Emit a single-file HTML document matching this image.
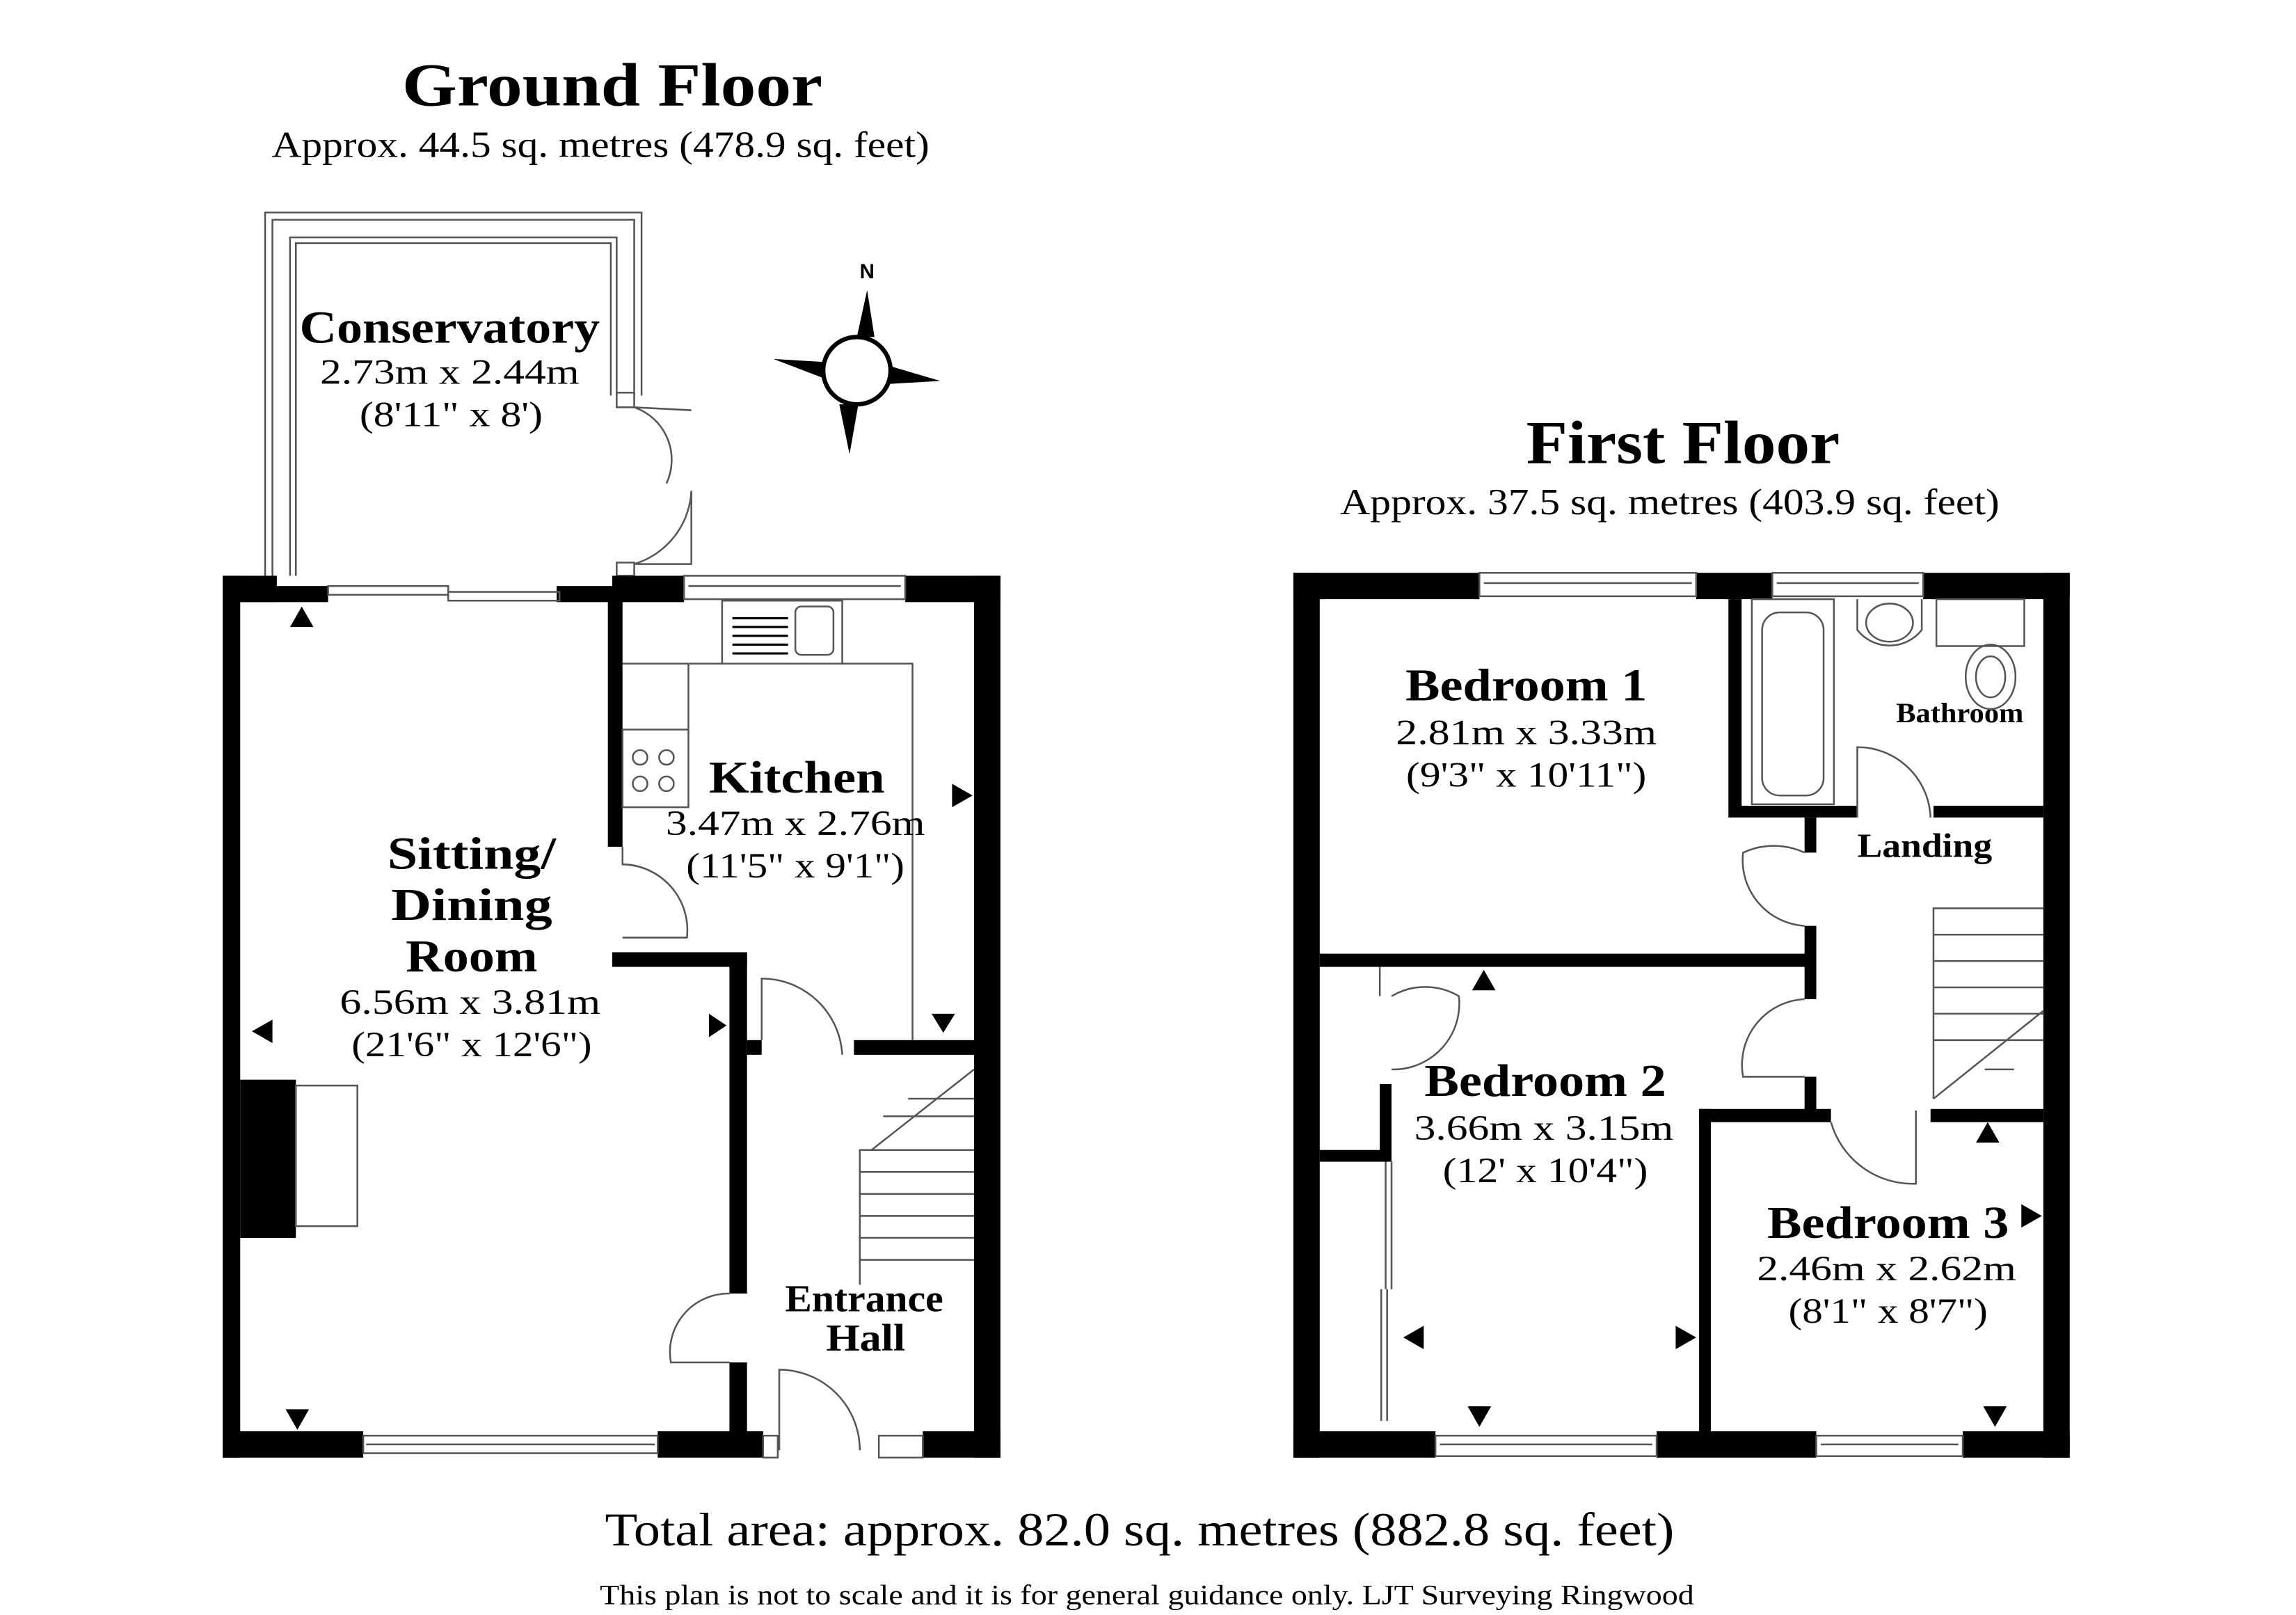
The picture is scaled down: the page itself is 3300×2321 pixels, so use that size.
<!DOCTYPE html>
<html><head><style>html,body{margin:0;padding:0;background:#fff}svg{display:block}</style></head><body>
<svg width="3300" height="2321" viewBox="0 0 1567.5 1102.4" xmlns="http://www.w3.org/2000/svg" font-family="'Liberation Serif',serif">
<rect width="1568" height="1103" fill="#fff"/>
<g text-anchor="middle" fill="#000" lengthAdjust="spacingAndGlyphs">
<text x="418" y="72" font-size="42" font-weight="bold" textLength="287" lengthAdjust="spacingAndGlyphs">Ground Floor</text>
<text x="410" y="107" font-size="25" textLength="449" lengthAdjust="spacingAndGlyphs">Approx. 44.5 sq. metres (478.9 sq. feet)</text>
<text x="1149" y="316" font-size="42" font-weight="bold" textLength="214" lengthAdjust="spacingAndGlyphs">First Floor</text>
<text x="1140" y="351" font-size="25" textLength="450" lengthAdjust="spacingAndGlyphs">Approx. 37.5 sq. metres (403.9 sq. feet)</text>
<text x="778" y="1055" font-size="32" textLength="730" lengthAdjust="spacingAndGlyphs">Total area: approx. 82.0 sq. metres (882.8 sq. feet)</text>
<text x="783" y="1095" font-size="19" textLength="747" lengthAdjust="spacingAndGlyphs">This plan is not to scale and it is for general guidance only. LJT Surveying Ringwood</text>
</g>
<!-- Conservatory frame -->
<g fill="none" stroke="#555" stroke-width="1.2">
<path d="M181 393 V145 H438 V270"/><path d="M186 393 V150 H433 V270"/><path d="M198 393 V162 H421 V270"/><path d="M202 393 V166 H417 V270"/>
<rect x="421" y="268" width="12" height="10"/>
<rect x="421" y="384" width="12" height="9"/>
<path d="M433 278 A38 38 0 0 1 455 330 M433 385 A55 55 0 0 0 472 335 M433 278 L472 280 M472 335 V385 H433" />
</g>
<!-- compass -->
<g>
<circle cx="585" cy="253" r="23" fill="#fff" stroke="#000" stroke-width="3"/>
<polygon points="592,198 585,230 597,230" fill="#000"/><polygon points="580,310 573,276 586,276" fill="#000"/>
<polygon points="528,245 562,247 562,258" fill="#000"/><polygon points="642,260 608,250 608,262" fill="#000"/>
<text x="592" y="190" font-family="'Liberation Sans',sans-serif" font-size="14" font-weight="bold" text-anchor="middle">N</text>
</g>
<!-- Ground floor walls -->
<g fill="#000">
<rect x="152" y="393" width="12" height="602"/>
<rect x="152" y="977" width="96" height="18"/>
<rect x="449" y="977" width="72" height="18"/>
<rect x="630" y="977" width="53" height="18"/>
<rect x="665" y="393" width="18" height="602"/>
<rect x="152" y="393" width="37" height="18"/><rect x="164" y="400" width="60" height="11"/>
<rect x="380" y="400" width="45" height="11"/><rect x="418" y="393" width="49" height="18"/>
<rect x="618" y="393" width="65" height="18"/>
<rect x="415" y="410" width="10" height="168"/>
<rect x="418" y="650" width="92" height="10"/>
<rect x="498" y="650" width="12" height="233"/>
<rect x="498" y="930" width="12" height="50"/>
<rect x="510" y="710" width="10" height="10"/>
<rect x="583" y="710" width="82" height="10"/>
<rect x="164" y="737" width="38" height="108"/>
</g>
<g fill="none" stroke="#555" stroke-width="1.2">
<rect x="224" y="400" width="82" height="6"/><rect x="306" y="404" width="76" height="6"/>
<rect x="467" y="393" width="151" height="16"/><line x1="470" y1="400" x2="615" y2="400"/>
<rect x="202" y="741" width="42" height="96"/>
<rect x="493" y="410" width="82" height="43"/>
<rect x="543" y="414" width="26" height="33" rx="4"/>
<path d="M425 453 H623 V710 M470 453 V498 H425 M425 498 V551 H470 V498"/>
<circle cx="437" cy="517" r="5"/><circle cx="455" cy="517" r="5"/><circle cx="437" cy="535" r="5"/><circle cx="455" cy="535" r="5"/>
<path d="M425 578 V590 A45 45 0 0 1 469 640 H425"/>
<path d="M520 710 V668 A55 55 0 0 1 575 720"/>
<path d="M498 883 A40 40 0 0 0 458 930 H498"/>
<path d="M532 990 V935 A55 55 0 0 1 587 990"/>
<rect x="248" y="980" width="201" height="12"/><line x1="250" y1="986" x2="447" y2="986"/>
<rect x="521" y="980" width="10" height="15"/><rect x="600" y="980" width="30" height="15"/>
<path d="M587 877 V785 H665 M587 800 H665 M587 815 H665 M587 830 H665 M587 845 H665 M587 860 H665 M595 785 L665 730 M603 762 H665 M620 750 H665"/>
</g>
<g stroke="#000" stroke-width="1.5">
<line x1="500" y1="428" x2="538" y2="428"/><line x1="500" y1="434" x2="538" y2="434"/><line x1="500" y1="440" x2="538" y2="440"/><line x1="500" y1="422" x2="538" y2="422"/><line x1="500" y1="446" x2="538" y2="446"/>
</g>
<!-- arrows GF -->
<g fill="#000">
<polygon points="206,414 198,428 214,428"/><polygon points="172,704 186,696 186,712"/>
<polygon points="496,700 484,692 484,708"/><polygon points="664,543 650,535 650,551"/>
<polygon points="644,705 636,692 652,692"/><polygon points="203,976 195,962 211,962"/>
</g>
<g text-anchor="middle" font-weight="bold" font-size="31">
<text x="307" y="234" textLength="205" lengthAdjust="spacingAndGlyphs">Conservatory</text>
<text x="544" y="541" textLength="120" lengthAdjust="spacingAndGlyphs">Kitchen</text>
<text x="322" y="593" textLength="115" lengthAdjust="spacingAndGlyphs">Sitting/</text>
<text x="322" y="628" textLength="110" lengthAdjust="spacingAndGlyphs">Dining</text>
<text x="322" y="663" textLength="90" lengthAdjust="spacingAndGlyphs">Room</text>
<text x="590" y="895" font-size="26" textLength="108" lengthAdjust="spacingAndGlyphs">Entrance</text>
<text x="591" y="922" font-size="26" textLength="54" lengthAdjust="spacingAndGlyphs">Hall</text>
<text x="1042" y="478" textLength="165" lengthAdjust="spacingAndGlyphs">Bedroom 1</text>
<text x="1055" y="748" textLength="165" lengthAdjust="spacingAndGlyphs">Bedroom 2</text>
<text x="1289" y="845" textLength="165" lengthAdjust="spacingAndGlyphs">Bedroom 3</text>
<text x="1338" y="493" font-size="19" textLength="87" lengthAdjust="spacingAndGlyphs">Bathroom</text>
<text x="1314" y="585" font-size="23" textLength="92" lengthAdjust="spacingAndGlyphs">Landing</text>
</g>
<g text-anchor="middle" font-size="24">
<text x="307" y="262" textLength="177" lengthAdjust="spacingAndGlyphs">2.73m x 2.44m</text>
<text x="308" y="291" textLength="125" lengthAdjust="spacingAndGlyphs">(8'11" x 8')</text>
<text x="543" y="570" textLength="177" lengthAdjust="spacingAndGlyphs">3.47m x 2.76m</text>
<text x="543" y="599" textLength="149" lengthAdjust="spacingAndGlyphs">(11'5" x 9'1")</text>
<text x="321" y="692" textLength="178" lengthAdjust="spacingAndGlyphs">6.56m x 3.81m</text>
<text x="322" y="721" textLength="164" lengthAdjust="spacingAndGlyphs">(21'6" x 12'6")</text>
<text x="1042" y="508" textLength="178" lengthAdjust="spacingAndGlyphs">2.81m x 3.33m</text>
<text x="1042" y="537" textLength="164" lengthAdjust="spacingAndGlyphs">(9'3" x 10'11")</text>
<text x="1054" y="778" textLength="177" lengthAdjust="spacingAndGlyphs">3.66m x 3.15m</text>
<text x="1055" y="807" textLength="140" lengthAdjust="spacingAndGlyphs">(12' x 10'4")</text>
<text x="1288" y="874" textLength="177" lengthAdjust="spacingAndGlyphs">2.46m x 2.62m</text>
<text x="1289" y="903" textLength="136" lengthAdjust="spacingAndGlyphs">(8'1" x 8'7")</text>
</g>
<!-- First floor walls -->
<g fill="#000">
<rect x="883" y="391" width="18" height="604"/><rect x="1395" y="391" width="18" height="604"/>
<rect x="883" y="391" width="127" height="18"/><rect x="1158" y="391" width="52" height="18"/><rect x="1313" y="391" width="100" height="18"/>
<rect x="883" y="977" width="97" height="18"/><rect x="1131" y="977" width="109" height="18"/><rect x="1340" y="977" width="73" height="18"/>
<rect x="901" y="651" width="339" height="9"/>
<rect x="1180" y="409" width="9" height="149"/>
<rect x="1188" y="550" width="80" height="8"/><rect x="1320" y="550" width="75" height="8"/>
<rect x="1232" y="558" width="8" height="24"/><rect x="1232" y="632" width="8" height="50"/><rect x="1232" y="735" width="8" height="25"/>
<rect x="1160" y="757" width="90" height="9"/><rect x="1318" y="757" width="77" height="9"/>
<rect x="1160" y="757" width="8" height="222"/>
<rect x="942" y="740" width="8" height="52"/><rect x="901" y="785" width="49" height="8"/>
</g>
<g fill="none" stroke="#555" stroke-width="1.2">
<rect x="1010" y="391" width="148" height="16"/><line x1="1013" y1="398" x2="1155" y2="398"/>
<rect x="1210" y="391" width="103" height="16"/><line x1="1213" y1="398" x2="1310" y2="398"/>
<rect x="980" y="980" width="151" height="14"/><line x1="983" y1="986" x2="1128" y2="986"/>
<rect x="1240" y="980" width="100" height="14"/><line x1="1243" y1="986" x2="1337" y2="986"/>
<rect x="1196" y="409" width="56" height="140"/><rect x="1203" y="418" width="42" height="125" rx="12"/>
<path d="M1268 409 V430 A28 28 0 0 0 1312 430 V409"/><ellipse cx="1290" cy="425" rx="16" ry="13"/>
<rect x="1322" y="409" width="60" height="32"/><ellipse cx="1359" cy="462" rx="17" ry="22"/><ellipse cx="1359" cy="462" rx="10" ry="14"/>
<path d="M1268 558 V510 A50 50 0 0 1 1318 558"/>
<path d="M1232 582 A50 50 0 0 0 1190 582 A45 45 0 0 0 1232 632"/>
<path d="M1232 682 A45 45 0 0 0 1190 735 H1232"/>
<path d="M1250 766 A58 58 0 0 0 1308 808 V758"/>
<path d="M950 680 A45 45 0 0 1 996 680 A45 45 0 0 1 950 730"/>
<path d="M942 680 V660"/>
<path d="M1320 750 V620 H1395 M1320 638 H1395 M1320 656 H1395 M1320 674 H1395 M1320 692 H1395 M1320 710 H1395 M1320 750 L1395 690 M1355 730 H1375"/>
<path d="M946 793 V880 M950 793 V880 M943 880 V970 M947 880 V970"/>
</g>
<g fill="#000">
<polygon points="1013,662 1005,676 1021,676"/><polygon points="1357,766 1349,780 1365,780"/>
<polygon points="1394,830 1380,822 1380,838"/><polygon points="958,913 972,905 972,921"/>
<polygon points="1158,913 1144,905 1144,921"/><polygon points="1010,974 1002,960 1018,960"/>
<polygon points="1362,974 1354,960 1370,960"/>
</g>
</svg>
</body></html>
